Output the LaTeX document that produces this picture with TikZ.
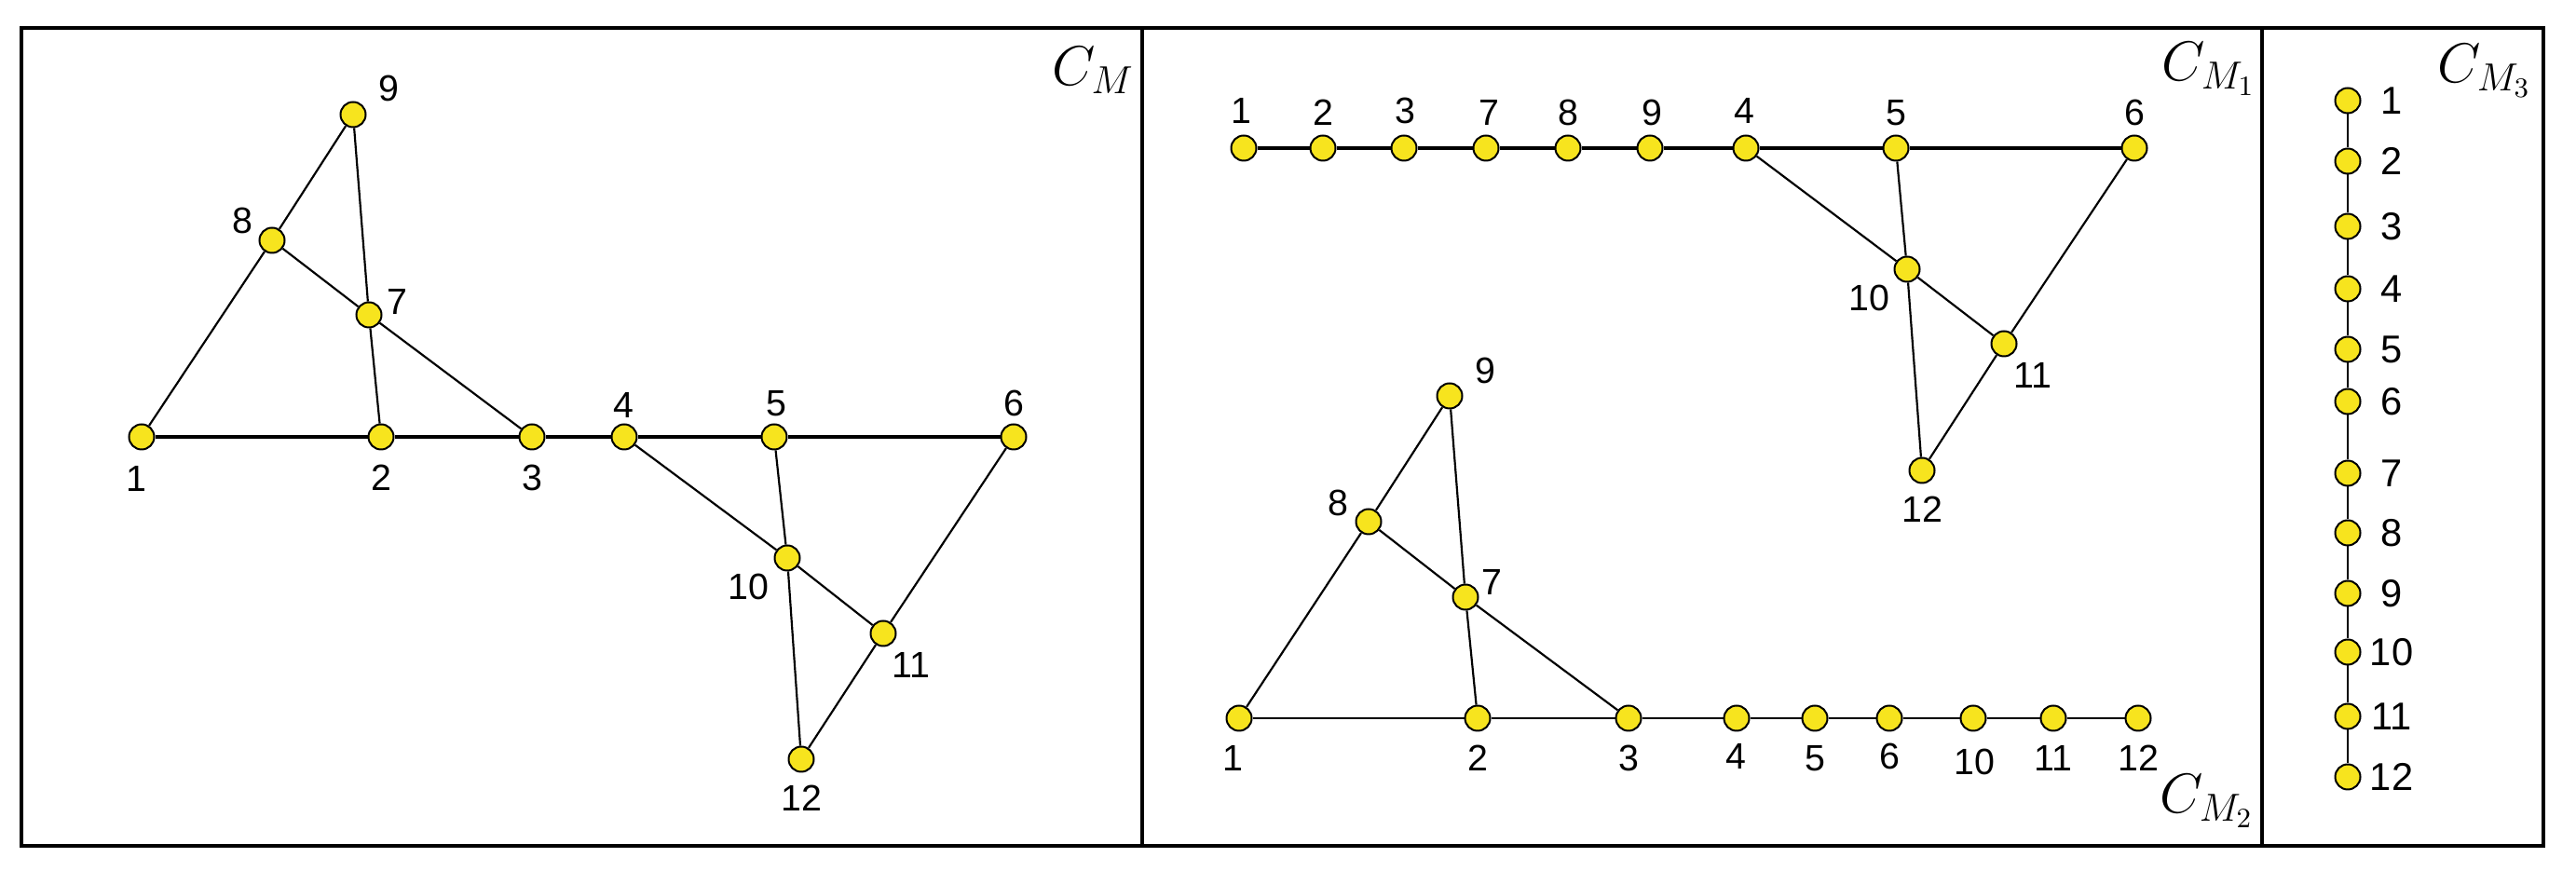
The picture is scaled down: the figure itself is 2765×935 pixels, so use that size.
\documentclass[tikz,border=0pt]{standalone}
\usepackage{fix-cm}
\usepackage[no-math]{fontspec}
\setmainfont{Liberation Sans}
\definecolor{vyellow}{RGB}{247,228,30}
\newcommand{\vtx}[6]{%
  \node[vtx] (#1) at (#2,#3) {};
  \node[lbl] (l#1) at (#5,#6) {#4};}
\begin{document}
\begin{tikzpicture}[x=0.3pt,y=-0.3pt,
  vtx/.style={circle,draw=black,fill=vyellow,line width=0.6pt,minimum size=8.1pt,inner sep=0pt},
  lbl/.style={inner sep=0pt,font=\fontsize{11.8}{12}\selectfont},
  lblb/.style={inner sep=0pt,font=\fontsize{12.5}{13}\selectfont},
  edge/.style={line width=0.65pt,black},
  hedge/.style={line width=0.95pt,black},
  frameline/.style={line width=1.2pt,black},
  divline/.style={line width=1pt,black},
  title/.style={inner sep=0pt,anchor=base east,font=\fontsize{18}{20}\selectfont}]
\useasboundingbox (0,0) rectangle (2765,935);
% frame
\draw[frameline] (23,30) rectangle (2730,908);
\coordinate (d1t) at (1226,30); \coordinate (d1b) at (1226,908);
\coordinate (d2t) at (2428,30); \coordinate (d2b) at (2428,908);
\draw[divline] (d1t) -- (d1b);
\draw[divline] (d2t) -- (d2b);
% ---------- panel 1 ----------
\vtx{a1}{152}{469}{1}{146}{514}
\vtx{a2}{409}{469}{2}{409}{513}
\vtx{a3}{571}{469}{3}{571}{513}
\vtx{a4}{670}{469}{4}{669}{435}
\vtx{a5}{831}{469}{5}{833}{433}
\vtx{a6}{1088}{469}{6}{1088}{433}
\vtx{a7}{396}{338}{7}{426}{324}
\vtx{a8}{292}{258}{8}{260}{237}
\vtx{a9}{379}{123}{9}{417}{95}
\vtx{a10}{845}{599}{10}{803}{630}
\vtx{a11}{948}{680}{11}{978}{714}
\vtx{a12}{860}{815}{12}{860}{857}
\node[title] (tM) at (1218,92) {$C_M$};
\draw[hedge] (a1) -- (a2) -- (a3) -- (a4) -- (a5) -- (a6);
\draw[edge] (a1) -- (a8) -- (a9) -- (a7) -- (a2);
\draw[edge] (a8) -- (a7) -- (a3);
\draw[edge] (a4) -- (a10) -- (a11) -- (a6);
\draw[edge] (a5) -- (a10) -- (a12) -- (a11);
% ---------- panel 2 top ----------
\vtx{b1}{1335}{159}{1}{1332}{119}
\vtx{b2}{1420}{159}{2}{1420}{121}
\vtx{b3}{1507}{159}{3}{1508}{119}
\vtx{b7}{1595}{159}{7}{1598}{121}
\vtx{b8}{1683}{159}{8}{1683}{121}
\vtx{b9}{1771}{159}{9}{1773}{121}
\vtx{b4}{1874}{159}{4}{1872}{119}
\vtx{b5}{2035}{159}{5}{2035}{121}
\vtx{b6}{2291}{159}{6}{2291}{121}
\vtx{b10}{2047}{289}{10}{2006}{320}
\vtx{b11}{2151}{369}{11}{2182}{403}
\vtx{b12}{2063}{505}{12}{2063}{547}
\node[title] (tM1) at (2422,87) {$C_{M_1}$};
\draw[hedge] (b1) -- (b2) -- (b3) -- (b7) -- (b8) -- (b9) -- (b4) -- (b5) -- (b6);
\draw[edge] (b4) -- (b10) -- (b11) -- (b6);
\draw[edge] (b5) -- (b10) -- (b12) -- (b11);
% ---------- panel 2 bottom ----------
\vtx{c1}{1330}{771}{1}{1323}{814}
\vtx{c2}{1586}{771}{2}{1586}{814}
\vtx{c3}{1748}{771}{3}{1748}{814}
\vtx{c4}{1864}{771}{4}{1863}{812}
\vtx{c5}{1948}{771}{5}{1948}{814}
\vtx{c6}{2028}{771}{6}{2028}{812}
\vtx{c10}{2118}{771}{10}{2119}{818}
\vtx{c11}{2204}{771}{11}{2204}{814}
\vtx{c12}{2295}{771}{12}{2295}{814}
\vtx{c7}{1573}{641}{7}{1601}{625}
\vtx{c8}{1469}{560}{8}{1436}{540}
\vtx{c9}{1556}{425}{9}{1594}{398}
\node[title] (tM2) at (2420,873) {$C_{M_2}$};
\draw[edge] (c1) -- (c2) -- (c3) -- (c4) -- (c5) -- (c6) -- (c10) -- (c11) -- (c12);
\draw[edge] (c1) -- (c8) -- (c9) -- (c7) -- (c2);
\draw[edge] (c8) -- (c7) -- (c3);
% ---------- panel 3 ----------
\foreach \n/\yy in {1/108,2/173,3/243,4/310,5/375,6/431,7/508,8/572,9/637,10/700,11/769,12/834}{
  \node[vtx] (d\n) at (2520,\yy) {};
  \node[lblb] (ld\n) at (2567,\yy) {\n};
}
\draw[edge] (d1) -- (d2) -- (d3) -- (d4) -- (d5) -- (d6) -- (d7) -- (d8) -- (d9) -- (d10) -- (d11) -- (d12);
\node[title] (tM3) at (2718,89) {$C_{M_3}$};
\end{tikzpicture}
\end{document}
